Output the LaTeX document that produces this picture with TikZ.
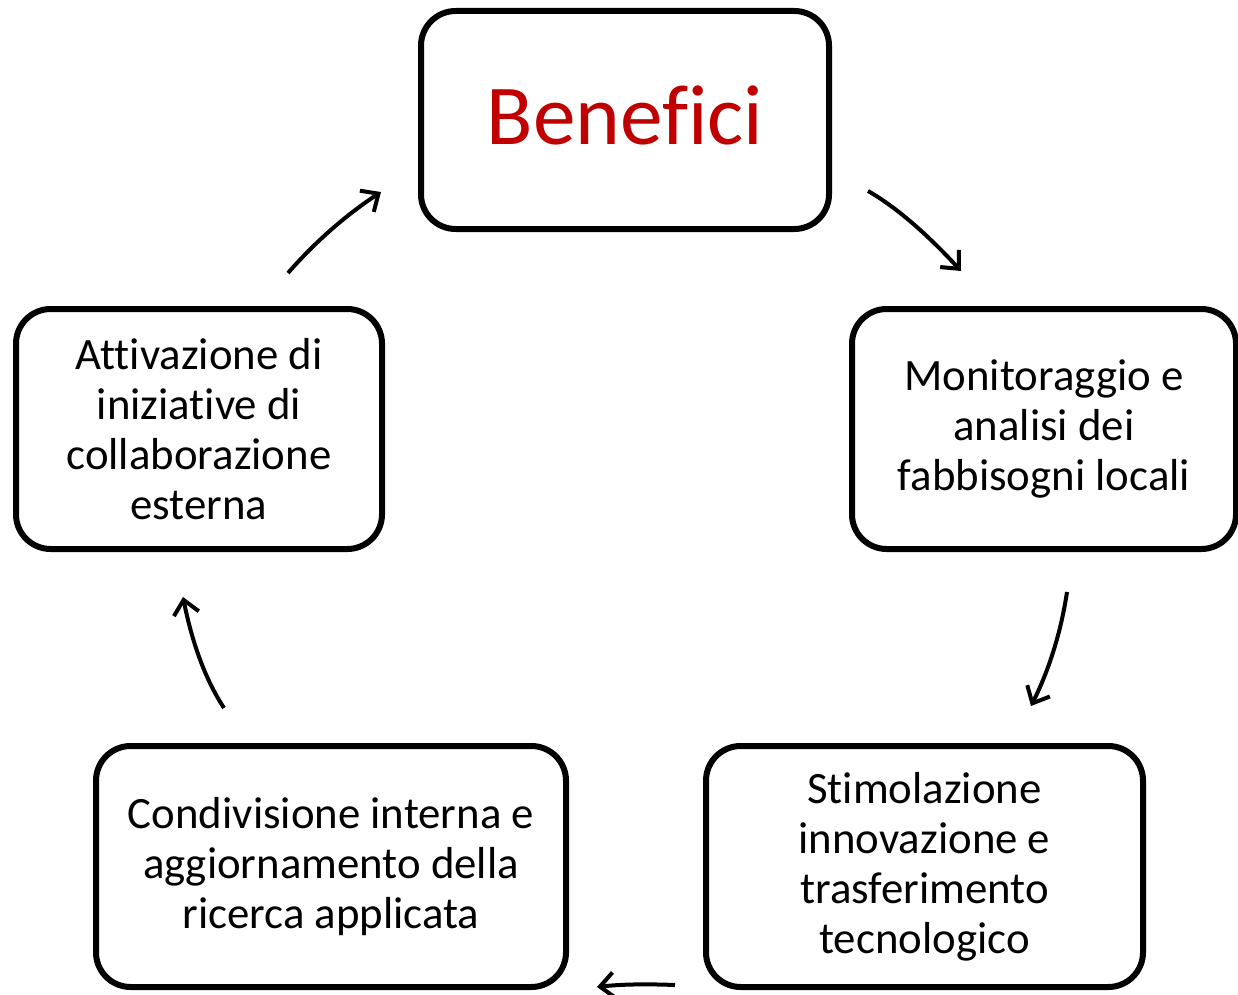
\documentclass[tikz,border=0pt]{standalone}
\usepackage{fontspec}
\setmainfont[Ligatures=NoCommon]{Carlito}
\usetikzlibrary{arrows.meta}
\definecolor{benred}{RGB}{192,0,0}
\tikzset{
  box/.style={draw=black, line width=4.5pt, rounded corners=26pt, align=center,
    inner sep=0pt, font=\fontsize{33.6}{37.5}\selectfont},
  cyc/.style={line width=3pt, -{Straight Barb[length=10.5pt,width=19pt,line width=3pt]}}
}
\begin{document}
\begin{tikzpicture}[x=0.75pt,y=0.75pt,yscale=-1]
\useasboundingbox (0,0) rectangle (1238,995);

% Rounded Rect
\node [box, minimum width=306pt, minimum height=163.5pt, text=benred, text depth=7.5pt,
  font=\fontsize{64}{78}\selectfont] (benefici) at (625,120) {Benefici};
% Rounded Rect
\node [box, minimum width=288pt, minimum height=180pt] (monit) at (1044,429)
  {Monitoraggio e\\analisi dei\\fabbisogni locali};
% Rounded Rect
\node [box, minimum width=327.75pt, minimum height=180.75pt] (stimol) at (924.5,866.5)
  {Stimolazione\\innovazione e\\trasferimento\\tecnologico};
% Rounded Rect
\node [box, minimum width=352.5pt, minimum height=180.75pt] (condiv) at (331,866.5)
  {Condivisione interna e\\aggiornamento della\\ricerca applicata};
% Rounded Rect
\node [box, minimum width=274.5pt, minimum height=180pt] (attiv) at (199,429)
  {Attivazione di\\iniziative di\\collaborazione\\esterna};

% arrow ends
\coordinate (a1s) at (868,191);  \coordinate (a1e) at (961,271);
\coordinate (a2s) at (1067,592); \coordinate (a2e) at (1031,706);
\coordinate (a3s) at (675,985);  \coordinate (a3e) at (597,987);
\coordinate (a4s) at (224,708);  \coordinate (a4e) at (183,597);
\coordinate (a5s) at (288,273);  \coordinate (a5e) at (381,192);

%Curve Lines
\draw [cyc] (a1s) .. controls (896,207) and (927,234) .. (a1e);
%Curve Lines
\draw [cyc] (a2s) .. controls (1061,632) and (1049,670) .. (a2e);
%Curve Lines
\draw [cyc] (a3s) .. controls (649,984) and (623,984) .. (a3e);
%Curve Lines
\draw [cyc] (a4s) .. controls (205,679) and (192,642) .. (a4e);
%Curve Lines
\draw [cyc] (a5s) .. controls (315,242) and (346,215) .. (a5e);

\end{tikzpicture}
\end{document}
